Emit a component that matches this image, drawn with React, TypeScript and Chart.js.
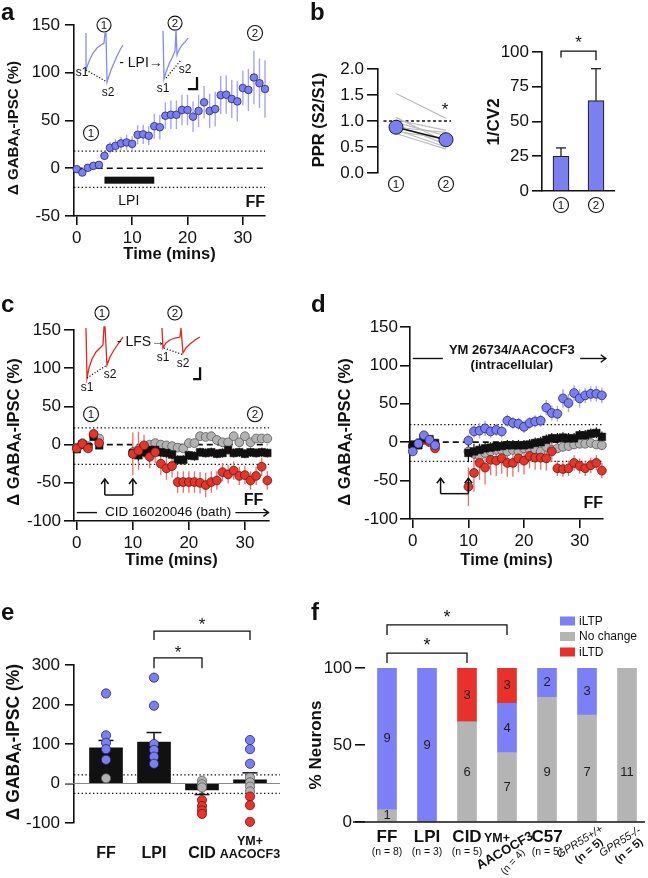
import React, { useEffect, useRef } from 'react';
import { Chart, registerables } from 'chart.js';

Chart.register(...registerables);

const FONT = '"Liberation Sans", Arial, Helvetica, sans-serif';
Chart.defaults.font.family = FONT;
Chart.defaults.color = '#111';

// ---------------- colours ----------------
const INK = '#111111';
const BLUE = '#7B7FF0';
const BLUE_EDGE = '#25276e';
const BLUE_ERR = '#A4A7F4';
const GRAY = '#B2B2B2';
const GRAY_EDGE = '#5a5a5a';
const GRAY_ERR = '#9a9a9a';
const RED = '#E2352B';
const RED_EDGE = '#6e1510';
const RED_ERR = '#EC6D66';
const F_BLUE = '#7C80F6';
const F_GRAY = '#B4B4B4';
const F_RED = '#E8312B';
const TRACE_BLUE = '#858AF0';
const TRACE_RED = '#E8241C';

// ---------------- panel a ----------------
const timeA = [0, 1, 2, 3, 4, 5, 6, 7, 8, 9, 10, 11, 12, 13, 14, 15, 16, 17, 18, 19, 20, 21, 22, 23, 24, 25, 26, 27, 28, 29, 30, 31, 32, 33, 34];
const lpiMean = [-1, -4.5, 0.5, 2.5, 3.5, 13, 21.5, 23.5, 26, 27, 25.5, 35, 35.5, 34, 44, 43, 55, 56, 56, 61, 61, 54, 60, 69, 60, 62, 76.5, 77, 72.5, 70, 84, 82, 95, 89, 83];
const lpiSem = [2, 3, 3, 3, 3, 4, 6, 7, 7, 8, 8, 10, 10, 10, 13, 13, 14, 15, 15, 16, 16, 16, 17, 17, 18, 18, 20, 20, 20, 21, 18, 22, 28, 26, 30];
const lpiWindow = [5, 14];
const thresholdsA = [18, -20];
const timeTicks = [0, 10, 20, 30];

// ---------------- panel b ----------------
const pprX = [1, 2];
const pprMean = [0.88, 0.64];
const pprCells = [
  [1.53, 1.05], [1.07, 0.6], [1.02, 0.82], [0.97, 0.72], [0.93, 0.55],
  [0.88, 0.78], [0.83, 0.5], [0.8, 0.66], [0.76, 0.46],
];
const cvMean = [25, 65];
const cvSem = [6, 23];

// ---------------- panel c ----------------
const timeBase = [0, 1, 2, 3, 4];
const timeAfter = [10, 11, 12, 13, 14, 15, 16, 17, 18, 19, 20, 21, 22, 23, 24, 25, 26, 27, 28, 29, 30, 31, 32, 33, 34];
const cRedBase = [-5, 1, -5, 14, 2];
const cRedAfter = [-12, -8, -1, -16, -10, -25, -31, -28, -49, -49, -49, -49, -50, -53, -49, -47, -36, -39, -34, -41, -40, -47, -41, -29, -47];
const cRedErrBase = [4, 4, 4, 5, 4];
const cRedErrAfter = [28, 25, 14, 15, 14, 15, 15, 15, 14, 14, 14, 14, 14, 16, 14, 12, 12, 12, 12, 12, 12, 12, 12, 12, 12];
const cBlackBase = [-6, 0, -3, 10, -1];
const cBlackAfter = [-11, -14, -10, -7, -7, -10, -11, -13, -20, -20, -14, -15, -10, -11, -10, -12, -11, -7, -11, -10, -12, -10, -11, -10, -11];
const cBlackErrBase = [4, 4, 4, 4, 4];
const cBlackErrAfter = [8, 7, 7, 6, 6, 6, 6, 6, 6, 6, 6, 6, 6, 6, 6, 6, 6, 6, 6, 6, 6, 6, 6, 6, 6];
const cGrayBase = [-4, 2, -2, 12, 8];
const cGrayAfter = [-10, -6, -3, 0, 2, 0, -1, -2, -4, -5, 2, 2, 11, 10, 11, 6, 3, 3, 11, 3, 11, 3, 8, 8, 8];
const cGrayErrBase = [4, 4, 4, 4, 4];
const cGrayErrAfter = [5, 5, 5, 5, 5, 5, 5, 5, 5, 5, 5, 5, 5, 5, 5, 5, 5, 5, 5, 5, 5, 5, 5, 5, 5];
const cThresholds = [22, -26];
const stimMarks = [5, 10];

// ---------------- panel d ----------------
const dBlueBase = [-12, -2, 9, 3, -4];
const dBlueAfter = [2, 14, 15, 18, 14, 16, 14, 28, 25, 24, 20, 25, 27, 28, 45, 38, 37, 57, 51, 64, 57, 61, 63, 63, 61];
const dBlueErrBase = [4, 4, 4, 4, 4];
const dBlueErrAfter = [8, 8, 10, 10, 8, 8, 8, 8, 8, 8, 8, 8, 8, 8, 10, 10, 10, 12, 12, 10, 12, 10, 10, 10, 10];
const dRedBase = [-5, -3, 3, 0, -8];
const dRedAfter = [-58, -40, -27, -33, -23, -24, -21, -27, -27, -21, -24, -18, -20, -20, -21, -12, -34, -35, -34, -27, -31, -34, -30, -27, -37];
const dRedErrBase = [4, 4, 4, 4, 4];
const dRedErrAfter = [25, 25, 22, 22, 20, 20, 20, 18, 18, 18, 18, 16, 16, 16, 16, 14, 10, 10, 10, 10, 10, 10, 10, 10, 10];
const dBlackBase = [-3, -4, 5, 4, -1];
const dBlackAfter = [-14, -12, -10, -8, -7, -6, -5, -4, -4, -4, -4, -3, -1, 0, 3, 5, 5, 6, 5, 5, 9, 9, 11, 12, 7];
const dBlackErrBase = [4, 4, 4, 4, 4];
const dBlackErrAfter = [12, 10, 8, 8, 7, 7, 7, 7, 7, 7, 7, 7, 7, 7, 7, 7, 7, 7, 7, 7, 7, 7, 7, 7, 7];
const dGrayBase = [-6, -1, 7, 1, -3];
const dGrayAfter = [-12, -15, -18, -14, -12, -10, -10, -12, -10, -12, -8, -9, -10, -12, -6, -10, -8, -6, -5, -3, -2, -2, -1, -3, -4];
const dGrayErrBase = [4, 4, 4, 4, 4];
const dGrayErrAfter = [6, 6, 6, 6, 6, 6, 6, 6, 6, 6, 6, 6, 6, 6, 6, 6, 6, 6, 6, 6, 6, 6, 6, 6, 6];
const dThresholds = [23, -25];

// ---------------- panel e ----------------
const eGroups = ['FF', 'LPI', 'CID', 'YM+ AACOCF3'];
const eMean = [90, 105, -16, 9];
const eSem = [19, 24, 12, 18];
const eDotsIltp = [[228, 122, 103, 87, 60], [268, 197, 100, 85, 68, 50], [], [110, 87, 50]];
const eDotsNoChange = [[13], [], [7, -2, -10], [15, 3, -8, -20]];
const eDotsIltd = [[], [], [-42, -57, -68, -77], [-33, -55, -97]];
const eThresholds = [22, -25];

// ---------------- panel f ----------------
const fGroups = ['FF', 'LPI', 'CID', 'YM+ AACOCF3', 'C57', 'GPR55+/+', 'GPR55-/-'];
const fN = [8, 3, 5, 4, 5, 5, 5];
const fNoChange = [8, 0, 65, 45, 81, 69.5, 100];
const fIltp = [92, 100, 0, 32, 19, 30.5, 0];
const fIltd = [0, 0, 35, 23, 0, 0, 0];
const fCountNoChange = [1, null, 6, 7, 9, 7, 11];
const fCountIltp = [9, 9, null, 4, 2, 3, null];
const fCountIltd = [null, null, 3, 3, null, null, null];

// ---------------- geometry ----------------
type Geo = { x: number; y: number; w: number; h: number; l: number; t: number; r: number; b: number; xh: number };
const geoA: Geo = { x: 0, y: 0, w: 290, h: 270, l: 74, t: 25, r: 265, b: 216, xh: 30 };
const geoB1: Geo = { x: 300, y: 0, w: 170, h: 200, l: 378, t: 69, r: 460, b: 173, xh: 0 };
const geoB2: Geo = { x: 470, y: 0, w: 178, h: 230, l: 542, t: 52, r: 614, b: 191, xh: 0 };
const geoC: Geo = { x: 0, y: 270, w: 290, h: 300, l: 74, t: 330, r: 269, b: 521, xh: 30 };
const geoD: Geo = { x: 305, y: 270, w: 343, h: 300, l: 410, t: 327, r: 603, b: 519, xh: 30 };
const geoE: Geo = { x: 0, y: 560, w: 300, h: 318, l: 74, t: 665, r: 280, b: 823, xh: 0 };
const geoF: Geo = { x: 305, y: 560, w: 343, h: 318, l: 365, t: 668, r: 645, b: 822, xh: 0 };

const GABA_TITLE: [string, boolean][] = [['Δ GABA', false], ['A', true], ['-IPSC (%)', false]];

// ---------------- drawing helpers ----------------
type C2 = CanvasRenderingContext2D;
function fnt(size: number, bold = false, italic = false) {
  return `${italic ? 'italic ' : ''}${bold ? 'bold ' : ''}${size}px ${FONT}`;
}
function stroke(ctx: C2, pts: number[][], color = INK, width = 1.5, dash: number[] = []) {
  ctx.save();
  ctx.beginPath();
  ctx.strokeStyle = color;
  ctx.lineWidth = width;
  ctx.setLineDash(dash);
  pts.forEach(([x, y], i) => (i ? ctx.lineTo(x, y) : ctx.moveTo(x, y)));
  ctx.stroke();
  ctx.restore();
}
function label(ctx: C2, s: string, x: number, y: number, o: any = {}) {
  ctx.save();
  ctx.font = fnt(o.size ?? 14, o.bold, o.italic);
  ctx.fillStyle = o.color ?? INK;
  ctx.textAlign = o.align ?? 'center';
  ctx.textBaseline = o.base ?? 'alphabetic';
  ctx.translate(x, y);
  if (o.rot) ctx.rotate((o.rot * Math.PI) / 180);
  ctx.fillText(s, 0, 0);
  ctx.restore();
}
function circled(ctx: C2, x: number, y: number, d: string, r = 7.5) {
  ctx.save();
  ctx.beginPath();
  ctx.arc(x, y, r, 0, Math.PI * 2);
  ctx.fillStyle = '#fff';
  ctx.fill();
  ctx.strokeStyle = INK;
  ctx.lineWidth = 1.1;
  ctx.stroke();
  ctx.restore();
  label(ctx, d, x, y + 0.5, { size: 11.5, base: 'middle' });
}
function arrowHead(ctx: C2, x: number, y: number, dir: 'up' | 'right', s = 5) {
  if (dir === 'up') stroke(ctx, [[x - s * 0.75, y + s], [x, y], [x + s * 0.75, y + s]], INK, 1.5);
  else stroke(ctx, [[x - s, y - s * 0.75], [x, y], [x - s, y + s * 0.75]], INK, 1.5);
}
function star(ctx: C2, x: number, cy: number, size = 17) {
  label(ctx, '*', x, cy + size * 0.57, { size });
}
function bracket(ctx: C2, x1: number, x2: number, y: number, y1: number, y2: number) {
  stroke(ctx, [[x1, y1], [x1, y], [x2, y], [x2, y2]], INK, 1.3);
}
function yTitle(ctx: C2, cx: number, cy: number, size: number, parts: [string, boolean][]) {
  ctx.save();
  ctx.translate(cx, cy);
  ctx.rotate(-Math.PI / 2);
  ctx.fillStyle = INK;
  ctx.textBaseline = 'middle';
  ctx.textAlign = 'left';
  const big = fnt(size, true);
  const small = fnt(size * 0.68, true);
  let total = 0;
  parts.forEach(([t, sub]) => {
    ctx.font = sub ? small : big;
    total += ctx.measureText(t).width;
  });
  let x = -total / 2;
  parts.forEach(([t, sub]) => {
    ctx.font = sub ? small : big;
    ctx.fillText(t, x, sub ? size * 0.22 : 0);
    x += ctx.measureText(t).width;
  });
  ctx.restore();
}
function inset(ctx: C2, ax: number, ay: number, path: number[][], dots: number[][], labels: [string, number, number][], color: string) {
  stroke(ctx, path.map(([dx, dy]) => [ax + dx, ay + dy]), color, 1.3);
  stroke(ctx, dots.map(([dx, dy]) => [ax + dx, ay + dy]), INK, 1.2, [1.2, 1.8]);
  labels.forEach(([t, dx, dy]) => label(ctx, t, ax + dx, ay + dy, { size: 12, base: 'middle' }));
}
function scaleBar(ctx: C2, x: number, y: number, hw: number, vh: number) {
  stroke(ctx, [[x - hw, y], [x, y], [x, y - vh]], INK, 2.3);
}
function drawErrors(chart: any) {
  const ctx = chart.ctx as C2;
  const sy = chart.scales.y;
  chart.data.datasets.forEach((ds: any, di: number) => {
    if (!ds.errors) return;
    const meta = chart.getDatasetMeta(di);
    meta.data.forEach((el: any, i: number) => {
      const e = ds.errors[i];
      if (e == null) return;
      const raw = ds.data[i];
      const v = typeof raw === 'number' ? raw : raw.y;
      let lo = v - e;
      let hi = v + e;
      if (ds.errAway) {
        if (v >= 0) lo = v;
        else hi = v;
      }
      const x = el.x;
      const y1 = sy.getPixelForValue(lo);
      const y2 = sy.getPixelForValue(hi);
      stroke(ctx, [[x, y1], [x, y2]], ds.errColor, ds.errWidth ?? 1.4);
      if (ds.errCap) {
        const yc = v >= 0 ? y2 : y1;
        stroke(ctx, [[x - ds.errCap, yc], [x + ds.errCap, yc]], ds.errColor, ds.errWidth ?? 1.4);
      }
    });
  });
}
function deco(before?: (c: any) => void, after?: (c: any) => void) {
  return {
    id: 'deco',
    beforeDatasetsDraw(chart: any) {
      if (before) before(chart);
      drawErrors(chart);
    },
    afterDraw(chart: any) {
      if (after) after(chart);
    },
  };
}
function sc(chart: any) {
  const sx = chart.scales.x;
  const sy = chart.scales.y;
  return {
    X: (v: number) => sx.getPixelForValue(v),
    Y: (v: number) => sy.getPixelForValue(v),
    A: chart.chartArea,
    ctx: chart.ctx as C2,
  };
}

// ---------------- axis / option builders ----------------
function baseOptions(g: Geo) {
  return {
    responsive: false,
    maintainAspectRatio: false,
    animation: false,
    devicePixelRatio: 1,
    events: [],
    layout: {
      autoPadding: false,
      padding: { left: 0, top: g.t - g.y, right: g.x + g.w - g.r, bottom: g.y + g.h - g.b - g.xh },
    },
    plugins: { legend: { display: false }, tooltip: { enabled: false } },
  };
}
function yAxis(g: Geo, min: number, max: number, ticks: number[], o: any = {}) {
  return {
    type: 'linear',
    position: 'left',
    min,
    max,
    stacked: o.stacked ?? false,
    afterBuildTicks: (s: any) => {
      s.ticks = ticks.map((v) => ({ value: v }));
    },
    afterFit: (s: any) => {
      s.width = g.l - g.x;
    },
    border: { display: o.border ?? true, color: INK, width: 1.6 },
    grid: { display: true, drawOnChartArea: false, drawTicks: true, tickLength: o.tick ?? 9, color: INK, lineWidth: 1.6 },
    ticks: {
      color: INK,
      font: { family: FONT, size: o.size ?? 17 },
      padding: o.pad ?? 4,
      autoSkip: false,
      callback: (v: any) => (o.fmt ? o.fmt(v) : String(v)),
    },
  };
}
function xTimeAxis(g: Geo, min: number, max: number) {
  return {
    type: 'linear',
    position: 'bottom',
    min,
    max,
    afterBuildTicks: (s: any) => {
      s.ticks = timeTicks.map((v) => ({ value: v }));
    },
    afterFit: (s: any) => {
      s.height = g.xh;
    },
    border: { display: true, color: INK, width: 1.6 },
    grid: { display: true, drawOnChartArea: false, drawTicks: true, tickLength: 9, color: INK, lineWidth: 1.6 },
    ticks: { color: INK, font: { family: FONT, size: 17 }, padding: 3, autoSkip: false, maxRotation: 0, minRotation: 0 },
  };
}
const pts = (xs: number[], ys: number[]) => xs.map((x, i) => ({ x, y: ys[i] }));
const styleBlue = { pointStyle: 'circle', pointRadius: 3.8, pointBackgroundColor: BLUE, pointBorderColor: BLUE_EDGE, pointBorderWidth: 0.8, errColor: BLUE_ERR, errWidth: 1.4, clip: false };
const styleRed = { pointStyle: 'circle', pointRadius: 4.4, pointBackgroundColor: RED, pointBorderColor: RED_EDGE, pointBorderWidth: 0.8, errColor: RED_ERR, errWidth: 1.3, clip: false };
const styleGray = { pointStyle: 'circle', pointRadius: 4.4, pointBackgroundColor: GRAY, pointBorderColor: GRAY_EDGE, pointBorderWidth: 0.8, errColor: GRAY_ERR, errWidth: 1.3, clip: false };
const styleBlack = { pointStyle: 'rect', pointRadius: 5.4, pointBackgroundColor: INK, pointBorderColor: INK, pointBorderWidth: 0.5, errColor: INK, errWidth: 1.2, clip: false };

function timeSeries(base: number[], after: number[], errB: number[], errA: number[], style: any) {
  return { type: 'scatter', ...style, data: pts([...timeBase, ...timeAfter], [...base, ...after]), errors: [...errB, ...errA] };
}

// inset glyph drawings (pixel offsets from an anchor)
const traceA1 = [[0, 0], [0, 37], [2, 31], [4, 26], [7, 20], [11, 15], [15, 12], [18, 10], [19, 0], [20, 0], [21, 49], [23, 43], [25, 37], [28, 30], [31, 23], [34, 17], [37, 12]];
const dotA1 = [[0, 37], [21, 49]];
const sA1: [string, number, number][] = [['s1', -4, 40], ['s2', 22, 60]];
const traceA2 = [[0, 0], [1, 48], [3, 41], [6, 33], [9, 27], [12, 20], [13, -1], [14, 24], [16, 19], [19, 14], [22, 11], [25, 7]];
const dotA2 = [[3, 47], [18, 29]];
const sA2: [string, number, number][] = [['s1', 0, 58], ['s2', 22, 39]];
const traceC1 = [[0, 0], [1, 50], [3, 40], [6, 31], [10, 24], [14, 20], [17, 17], [18, -1], [19, -1], [21, 37], [24, 29], [28, 22], [32, 16], [37, 9]];
const dotC1 = [[1, 50], [21, 37]];
const sC1: [string, number, number][] = [['s1', 1, 60], ['s2', 24, 47]];
const traceC2 = [[0, 0], [1, 20], [4, 15], [8, 12], [13, 10], [18, 9], [19, 0], [21, 25], [24, 20], [28, 16], [33, 12], [38, 9]];
const dotC2 = [[2, 20], [22, 27]];
const sC2: [string, number, number][] = [['s1', 1, 30], ['s2', 21, 36]];

// ---------------- panel configs ----------------
function configA() {
  const g = geoA;
  return {
    type: 'scatter',
    data: { datasets: [{ type: 'scatter', ...styleBlue, data: pts(timeA, lpiMean), errors: lpiSem }] },
    options: {
      ...baseOptions(g),
      scales: { x: xTimeAxis(g, -0.5, 34), y: yAxis(g, -50, 150, [-50, 0, 50, 100, 150], { tick: 9, pad: 5 }) },
    },
    plugins: [
      deco(
        (chart) => {
          const { X, Y, A, ctx } = sc(chart);
          thresholdsA.forEach((v) => stroke(ctx, [[A.left, Y(v)], [A.right, Y(v)]], INK, 1.3, [1.4, 2.4]));
          stroke(ctx, [[X(0), Y(0)], [X(34), Y(0)]], INK, 1.7, [6, 4]);
          ctx.fillStyle = INK;
          ctx.fillRect(X(lpiWindow[0]), Y(-12.5) - 3.5, X(lpiWindow[1]) - X(lpiWindow[0]), 7);
        },
        (chart) => {
          const { X, Y, A, ctx } = sc(chart);
          label(ctx, 'a', 1, 20, { size: 24, bold: true, align: 'left' });
          yTitle(ctx, 14, 128, 15, GABA_TITLE);
          label(ctx, 'Time (mins)', (A.left + A.right) / 2, 259, { size: 16.5, bold: true });
          label(ctx, 'LPI', X(9.4), Y(-38.5), { size: 14 });
          label(ctx, 'FF', X(34), Y(-40.6), { size: 16, bold: true, align: 'right' });
          circled(ctx, X(2.57), Y(36.9), '1');
          circled(ctx, X(32.2), Y(141.6), '2');
          circled(ctx, X(4.92), Y(150), '1', 7);
          circled(ctx, X(17.75), Y(152), '2', 7);
          inset(ctx, X(1.67), Y(141.6), traceA1, dotA1, sA1, TRACE_BLUE);
          inset(ctx, X(15.58), Y(143.7), traceA2, dotA2, sA2, TRACE_BLUE);
          label(ctx, '- LPI→', X(11.6), Y(110.2), { size: 14, base: 'middle' });
          scaleBar(ctx, X(21.72), Y(82.9), 9, 12);
        }
      ),
    ],
  };
}

function configB1() {
  const g = geoB1;
  return {
    type: 'scatter',
    data: {
      datasets: [
        { type: 'scatter', data: pts(pprX, pprMean), showLine: true, borderColor: INK, borderWidth: 1.6, pointRadius: 7, pointBackgroundColor: BLUE, pointBorderColor: '#1a1a40', pointBorderWidth: 1, clip: false },
        ...pprCells.map((c) => ({ type: 'scatter', data: pts(pprX, c), showLine: true, borderColor: '#BEBEBE', borderWidth: 1.2, pointRadius: 0, clip: false })),
      ],
    },
    options: {
      ...baseOptions(g),
      scales: {
        x: { type: 'linear', min: 0.64, max: 2.28, display: false },
        y: yAxis(g, 0, 2, [0, 0.5, 1, 1.5, 2], { tick: 11, pad: 3, fmt: (v: number) => v.toFixed(1) }),
      },
    },
    plugins: [
      deco(
        (chart) => {
          const { X, Y, ctx } = sc(chart);
          stroke(ctx, [[X(0.75), Y(1)], [X(2.1), Y(1)]], INK, 1.3, [3, 2.5]);
        },
        (chart) => {
          const { X, Y, ctx } = sc(chart);
          label(ctx, 'b', 10, 20, { size: 24, bold: true, align: 'left' });
          yTitle(ctx, 19, 120, 16.5, [['PPR (S2/S1)', false]]);
          circled(ctx, X(1), 184, '1');
          circled(ctx, X(2), 184, '2');
          star(ctx, X(1.98), Y(1.31), 17);
        }
      ),
    ],
  };
}

function configB2() {
  const g = geoB2;
  return {
    type: 'bar',
    data: {
      datasets: [
        {
          type: 'bar',
          data: cvMean.map((v, i) => ({ x: pprX[i], y: v })),
          backgroundColor: BLUE,
          borderColor: '#222',
          borderWidth: 1.2,
          borderSkipped: 'bottom',
          barThickness: 16,
          errors: cvSem,
          errAway: true,
          errCap: 5,
          errColor: '#222',
          errWidth: 1.3,
        },
      ],
    },
    options: {
      ...baseOptions(g),
      scales: {
        x: {
          type: 'linear',
          min: 0.457,
          max: 2.514,
          offset: false,
          position: 'bottom',
          afterFit: (s: any) => {
            s.height = 0;
          },
          border: { display: true, color: INK, width: 1.6 },
          grid: { display: true, drawOnChartArea: false, drawTicks: false, offset: false },
          ticks: { display: false },
        },
        y: yAxis(g, 0, 100, [0, 25, 50, 75, 100], { tick: 10, pad: 3 }),
      },
    },
    plugins: [
      deco(undefined, (chart) => {
        const { X, Y, ctx } = sc(chart);
        yTitle(ctx, 24, 122, 17, [['1/CV2', false]]);
        circled(ctx, X(1), 205, '1');
        circled(ctx, X(2), 205, '2');
        bracket(ctx, X(1), X(2), Y(100.7), Y(96), Y(94));
        star(ctx, X(1.5), Y(110), 17);
      }),
    ],
  };
}

function configC() {
  const g = geoC;
  return {
    type: 'scatter',
    data: {
      datasets: [
        timeSeries(cRedBase, cRedAfter, cRedErrBase, cRedErrAfter, styleRed),
        timeSeries(cBlackBase, cBlackAfter, cBlackErrBase, cBlackErrAfter, styleBlack),
        timeSeries(cGrayBase, cGrayAfter, cGrayErrBase, cGrayErrAfter, styleGray),
      ],
    },
    options: {
      ...baseOptions(g),
      scales: { x: xTimeAxis(g, -0.5, 34.3), y: yAxis(g, -100, 150, [-100, -50, 0, 50, 100, 150], { tick: 10, pad: 3 }) },
    },
    plugins: [
      deco(
        (chart) => {
          const { X, Y, A, ctx } = sc(chart);
          cThresholds.forEach((v) => stroke(ctx, [[A.left, Y(v)], [A.right, Y(v)]], INK, 1.3, [1.4, 2.4]));
          stroke(ctx, [[X(0), Y(0)], [X(34), Y(0)]], INK, 1.7, [6, 4]);
        },
        (chart) => {
          const { X, Y, A, ctx } = sc(chart);
          label(ctx, 'c', 1, 42, { size: 24, bold: true, align: 'left' });
          yTitle(ctx, 14, 162, 16.5, GABA_TITLE);
          label(ctx, 'Time (mins)', (A.left + A.right) / 2, 295, { size: 16.5, bold: true });
          circled(ctx, X(2.54), Y(39.8), '1');
          circled(ctx, X(31.8), Y(39.8), '2');
          circled(ctx, X(4.5), Y(172.3), '1', 7);
          circled(ctx, X(17.5), Y(172.3), '2', 7);
          inset(ctx, X(1.64), Y(152.6), traceC1, dotC1, sC1, TRACE_RED);
          inset(ctx, X(15.2), Y(152.6), traceC2, dotC2, sC2, TRACE_RED);
          label(ctx, '- LFS→', X(11.46), Y(134), { size: 14, base: 'middle' });
          scaleBar(ctx, X(22), Y(85.6), 7, 12);
          stimMarks.forEach((m) => {
            stroke(ctx, [[X(m), Y(-66)], [X(m), Y(-45)]], INK, 1.5);
            arrowHead(ctx, X(m), Y(-45), 'up');
          });
          stroke(ctx, [[X(stimMarks[0]), Y(-66)], [X(stimMarks[1]), Y(-66)]], INK, 1.5);
          stroke(ctx, [[X(0), Y(-89)], [X(3.6), Y(-89)]], INK, 1.4);
          label(ctx, 'CID 16020046 (bath)', X(16.3), Y(-89), { size: 13.5, base: 'middle' });
          stroke(ctx, [[X(28.3), Y(-89)], [X(34.2), Y(-89)]], INK, 1.4);
          arrowHead(ctx, X(34.2), Y(-89), 'right');
          label(ctx, 'FF', X(33.3), Y(-79), { size: 16, bold: true, align: 'right' });
        }
      ),
    ],
  };
}

function configD() {
  const g = geoD;
  return {
    type: 'scatter',
    data: {
      datasets: [
        timeSeries(dBlueBase, dBlueAfter, dBlueErrBase, dBlueErrAfter, { ...styleBlue, pointRadius: 4.4 }),
        timeSeries(dBlackBase, dBlackAfter, dBlackErrBase, dBlackErrAfter, styleBlack),
        timeSeries(dRedBase, dRedAfter, dRedErrBase, dRedErrAfter, styleRed),
        timeSeries(dGrayBase, dGrayAfter, dGrayErrBase, dGrayErrAfter, styleGray),
      ],
    },
    options: {
      ...baseOptions(g),
      scales: { x: xTimeAxis(g, -0.5, 34.2), y: yAxis(g, -100, 150, [-100, -50, 0, 50, 100, 150], { tick: 10, pad: 2 }) },
    },
    plugins: [
      deco(
        (chart) => {
          const { X, Y, A, ctx } = sc(chart);
          dThresholds.forEach((v) => stroke(ctx, [[A.left, Y(v)], [A.right, Y(v)]], INK, 1.3, [1.4, 2.4]));
          stroke(ctx, [[X(0), Y(0)], [X(34), Y(0)]], INK, 1.7, [6, 4]);
        },
        (chart) => {
          const { X, Y, A, ctx } = sc(chart);
          label(ctx, 'd', 6, 42, { size: 24, bold: true, align: 'left' });
          yTitle(ctx, 40, 162, 16.5, GABA_TITLE);
          label(ctx, 'Time (mins)', (A.left + A.right) / 2, 295, { size: 16.5, bold: true });
          label(ctx, 'YM 26734/AACOCF3', X(17.8), Y(120), { size: 13, bold: true, base: 'middle' });
          label(ctx, '(intracellular)', X(17.8), Y(100.5), { size: 13, bold: true, base: 'middle' });
          stroke(ctx, [[X(0), Y(109)], [X(5.4), Y(109)]], INK, 1.4);
          stroke(ctx, [[X(30.1), Y(109)], [X(34.7), Y(109)]], INK, 1.4);
          arrowHead(ctx, X(34.7), Y(109), 'right');
          stimMarks.forEach((m) => {
            stroke(ctx, [[X(m), Y(-67)], [X(m), Y(-47)]], INK, 1.5);
            arrowHead(ctx, X(m), Y(-47), 'up');
          });
          stroke(ctx, [[X(stimMarks[0]), Y(-67)], [X(stimMarks[1]), Y(-67)]], INK, 1.5);
          label(ctx, 'FF', X(34.2), Y(-85.7), { size: 16, bold: true, align: 'right' });
        }
      ),
    ],
  };
}

const groupDots = (groups: number[][]) => groups.flatMap((vals, i) => vals.map((v) => ({ x: i, y: v })));

function configE() {
  const g = geoE;
  const dot = { type: 'scatter', pointRadius: 4.6, pointBorderWidth: 0.8, clip: false };
  return {
    type: 'bar',
    data: {
      datasets: [
        { ...dot, data: groupDots(eDotsIltd), pointBackgroundColor: RED, pointBorderColor: RED_EDGE },
        { ...dot, data: groupDots(eDotsNoChange), pointBackgroundColor: GRAY, pointBorderColor: GRAY_EDGE },
        { ...dot, data: groupDots(eDotsIltp), pointBackgroundColor: BLUE, pointBorderColor: BLUE_EDGE },
        {
          type: 'bar',
          data: eGroups.map((_, i) => ({ x: i, y: eMean[i] })),
          backgroundColor: INK,
          barThickness: 33,
          errors: eSem,
          errAway: true,
          errCap: 7.5,
          errColor: INK,
          errWidth: 1.5,
        },
      ],
    },
    options: {
      ...baseOptions(g),
      scales: {
        x: { type: 'linear', min: -0.667, max: 3.625, display: false, offset: false },
        y: yAxis(g, -100, 300, [-100, 0, 100, 200, 300], { tick: 9, pad: 5 }),
      },
    },
    plugins: [
      deco(
        (chart) => {
          const { Y, A, ctx } = sc(chart);
          stroke(ctx, [[65, Y(0)], [A.right, Y(0)]], '#8a8a8a', 1);
          eThresholds.forEach((v) => stroke(ctx, [[A.left, Y(v)], [A.right, Y(v)]], INK, 1.3, [1.4, 2.4]));
        },
        (chart) => {
          const { X, Y, ctx } = sc(chart);
          label(ctx, 'e', 1, 60, { size: 24, bold: true, align: 'left' });
          yTitle(ctx, 14, 182, 17.5, GABA_TITLE);
          bracket(ctx, X(1), X(2), Y(318), Y(292), Y(292));
          bracket(ctx, X(1), X(3), Y(386), Y(363), Y(363));
          star(ctx, X(1.5), Y(343), 17);
          star(ctx, X(2), Y(414), 17);
          ['FF', 'LPI', 'CID'].forEach((t, i) => label(ctx, t, X(i), 298, { size: 16, bold: true }));
          const [l1, l2] = eGroups[3].split(' ');
          label(ctx, l1, X(3), 285, { size: 12.5, bold: true });
          label(ctx, l2, X(3), 298, { size: 12.5, bold: true });
        }
      ),
    ],
  };
}

function configF() {
  const g = geoF;
  const bar = { type: 'bar', barThickness: 19, stack: 's', borderWidth: 0 };
  return {
    type: 'bar',
    data: {
      datasets: [
        { ...bar, label: 'No change', data: fNoChange.map((v, i) => ({ x: i, y: v })), backgroundColor: F_GRAY },
        { ...bar, label: 'iLTP', data: fIltp.map((v, i) => ({ x: i, y: v })), backgroundColor: F_BLUE },
        { ...bar, label: 'iLTD', data: fIltd.map((v, i) => ({ x: i, y: v })), backgroundColor: F_RED },
      ],
    },
    options: {
      ...baseOptions(g),
      scales: {
        x: { type: 'linear', min: -0.55, max: 6.45, display: false, offset: false, stacked: true },
        y: yAxis(g, 0, 100, [0, 50, 100], { tick: 10, pad: 3, border: false, stacked: true }),
      },
    },
    plugins: [
      deco(undefined, (chart) => {
        const { X, Y, A, ctx } = sc(chart);
        label(ctx, 'f', 6, 60, { size: 24, bold: true, align: 'left' });
        yTitle(ctx, 11, 185, 17, [['% Neurons', false]]);
        stroke(ctx, [[A.left - 12, A.bottom], [A.right, A.bottom]], INK, 1.6);
        // counts inside bars
        fGroups.forEach((_, i) => {
          const gv = fNoChange[i];
          const bv = fIltp[i];
          const cnt = { size: 13, base: 'middle', color: '#1e1e1e' };
          if (fCountNoChange[i] != null) label(ctx, String(fCountNoChange[i]), X(i), Y(Math.min(gv / 2, 32.5)), cnt);
          if (fCountIltp[i] != null) label(ctx, String(fCountIltp[i]), X(i), Y(gv + bv / 2), cnt);
          if (fCountIltd[i] != null) label(ctx, String(fCountIltd[i]), X(i), Y(gv + bv + fIltd[i] / 2), cnt);
        });
        // legend
        const leg: [string, string][] = [['iLTP', F_BLUE], ['No change', F_GRAY], ['iLTD', F_RED]];
        leg.forEach(([t, c], k) => {
          const cy = 61 + k * 15.5;
          ctx.fillStyle = c;
          ctx.fillRect(255, cy - 4.5, 15, 9);
          label(ctx, t, 274, cy + 0.5, { size: 12, align: 'left', base: 'middle' });
        });
        // significance
        bracket(ctx, X(0), X(3), Y(128), Y(121.4), Y(121.4));
        bracket(ctx, X(0), X(2), Y(109.7), Y(103.2), Y(103.2));
        star(ctx, X(1.5), Y(135.7), 18);
        star(ctx, X(1), Y(118), 18);
        // x labels
        [0, 1, 2, 4].forEach((i) => {
          label(ctx, fGroups[i], X(i), 282, { size: 17, bold: true });
          label(ctx, `(n = ${fN[i]})`, X(i), 295, { size: 10.5 });
        });
        const [y1, y2] = fGroups[3].split(' ');
        label(ctx, y1, X(3) - 10, 282, { size: 12.5, bold: true });
        label(ctx, y2, X(3) - 2, 291, { size: 13, bold: true, rot: -30, base: 'middle' });
        label(ctx, `(n = ${fN[3]})`, X(3) + 6, 302, { size: 10.5, rot: -48, base: 'middle' });
        [5, 6].forEach((i) => {
          label(ctx, fGroups[i], X(i) - 7, 282, { size: 11, italic: true, rot: -32, base: 'middle' });
          label(ctx, `(n = ${fN[i]})`, X(i) + 2, 291, { size: 11, bold: true, rot: -40, base: 'middle' });
        });
      }),
    ],
  };
}

// ---------------- components ----------------
function ChartBox({ g, make }: { g: Geo; make: () => any }) {
  const ref = useRef<HTMLCanvasElement | null>(null);
  useEffect(() => {
    if (!ref.current) return;
    const chart = new Chart(ref.current, make());
    return () => chart.destroy();
  }, []);
  return (
    <canvas
      ref={ref}
      width={g.w}
      height={g.h}
      style={{ position: 'absolute', left: g.x, top: g.y, width: g.w, height: g.h }}
    />
  );
}

export default function App() {
  return (
    <div style={{ position: 'absolute', left: 0, top: 0, width: 648, height: 878, background: '#fff', overflow: 'hidden' }}>
      <ChartBox g={geoA} make={configA} />
      <ChartBox g={geoB1} make={configB1} />
      <ChartBox g={geoB2} make={configB2} />
      <ChartBox g={geoC} make={configC} />
      <ChartBox g={geoD} make={configD} />
      <ChartBox g={geoE} make={configE} />
      <ChartBox g={geoF} make={configF} />
    </div>
  );
}
